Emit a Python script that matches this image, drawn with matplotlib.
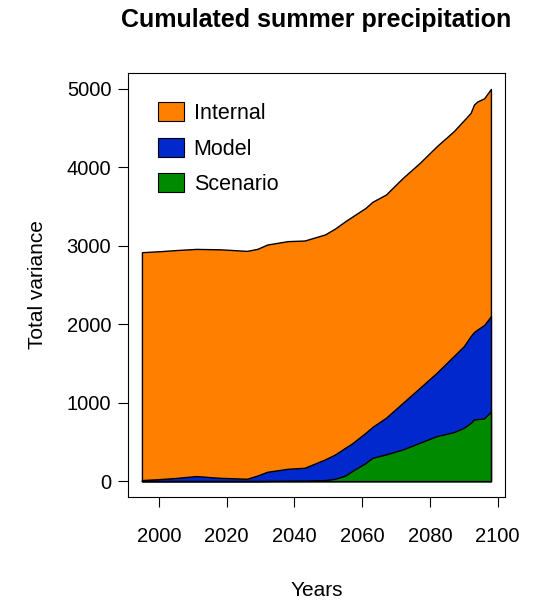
import numpy as np
import matplotlib.pyplot as plt
from matplotlib.patches import Patch

plt.rcParams["font.family"] = ["Liberation Sans", "DejaVu Sans"]

# values (cumulated series)
years = [1995, 2000, 2005, 2011, 2018, 2026, 2029, 2032, 2038, 2043, 2049,
         2052, 2055, 2057, 2061, 2063, 2067, 2072, 2077, 2082, 2087, 2090,
         2092, 2093, 2094, 2096, 2098]
total = [2918, 2930, 2945, 2960, 2955, 2935, 2960, 3016, 3059, 3067, 3144,
         3220, 3313, 3370, 3483, 3560, 3653, 3866, 4057, 4269, 4460, 4600,
         4694, 4800, 4840, 4880, 5000]
model_plus_scen = [13, 25, 40, 64, 42, 30, 70, 119, 157, 170, 276,
                   340, 425, 480, 616, 690, 807, 998, 1189, 1381, 1593, 1720,
                   1848, 1900, 1933, 1990, 2103]
scenario = [0, 0, 0, 0, 0, 0, 0, 2, 4, 5, 13,
            30, 70, 127, 230, 297, 340, 404, 489, 573, 624, 680,
            740, 786, 790, 800, 884]

labels = ["Internal", "Model", "Scenario"]
colors = ["#FF8000", "#0028CC", "#008A00"]
yticks = [0, 1000, 2000, 3000, 4000, 5000]
xticks = [2000, 2020, 2040, 2060, 2080, 2100]

fig = plt.figure(figsize=(5.4, 6.0), dpi=100)
ax = fig.add_axes([0.237, 0.172, 0.698, 0.706])

x = np.array(years)
layers = [total, model_plus_scen, scenario]
for top, c in zip(layers, colors):
    ax.fill_between(x, 0, top, facecolor=c, edgecolor="black", linewidth=1.0)

# R style padding
span = years[-1] - years[0]
ax.set_xlim(years[0] - 0.04 * span, years[-1] + 0.04 * span)
ax.set_ylim(-200, 5200)
ax.set_xticks(xticks)
ax.set_yticks(yticks)
ax.tick_params(direction="out", length=7, width=0.8, labelsize=14.5, pad=5)
ax.tick_params(axis="x", pad=15)
for s in ax.spines.values():
    s.set_linewidth(0.8)

ax.set_title("Cumulated summer precipitation", fontsize=18,
             fontweight="bold", pad=33)
ax.set_xlabel("Years", fontsize=15, labelpad=25)
ax.set_ylabel("Total variance", fontsize=15, labelpad=14)

handles = [Patch(facecolor=c, edgecolor="black", linewidth=0.8) for c in colors]
ax.legend(handles, labels, loc="upper left", frameon=False, fontsize=15.5,
          handlelength=1.2, handleheight=1.0, labelspacing=0.63,
          handletextpad=0.45, borderpad=0, borderaxespad=0,
          bbox_to_anchor=(0.08, 0.932))

fig.savefig("out.png", dpi=100)
